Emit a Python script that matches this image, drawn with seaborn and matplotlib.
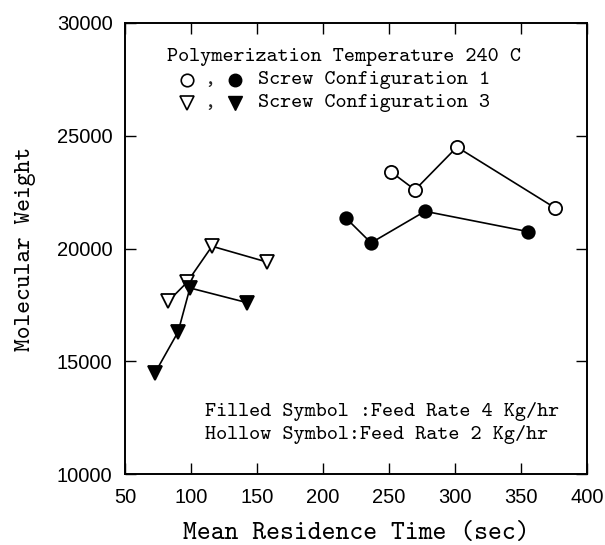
import matplotlib
matplotlib.use("Agg")
import matplotlib.pyplot as plt
import seaborn as sns
import pandas as pd

# Screw configuration 1, feed rate 2 kg/hr (hollow circles)
c1_hollow_x = [251.5, 269.7, 301.5, 375.8]
c1_hollow_y = [23400, 22600, 24500, 21800]
# Screw configuration 1, feed rate 4 kg/hr (filled circles)
c1_filled_x = [217.4, 236.4, 277.3, 355.3]
c1_filled_y = [21350, 20250, 21650, 20750]
# Screw configuration 3, feed rate 2 kg/hr (hollow triangles)
c3_hollow_x = [82.6, 97.0, 115.9, 157.6]
c3_hollow_y = [17650, 18500, 20100, 19400]
# Screw configuration 3, feed rate 4 kg/hr (filled triangles)
c3_filled_x = [72.7, 90.2, 99.2, 142.4]
c3_filled_y = [14480, 16300, 18250, 17600]

x_ticks = [50, 100, 150, 200, 250, 300, 350, 400]
y_ticks = [10000, 15000, 20000, 25000, 30000]

sns.set_theme(style="ticks")
plt.rcParams["font.family"] = ["cmtt10", "DejaVu Sans"]

fig = plt.figure(figsize=(6.05, 5.45), dpi=100)
ax = fig.add_axes([125 / 605, 71 / 545, 462 / 605, 451 / 545])

series = [
    (c1_hollow_x, c1_hollow_y, "o", "white", 9.5),
    (c1_filled_x, c1_filled_y, "o", "black", 9.0),
    (c3_hollow_x, c3_hollow_y, "v", "white", 10.5),
    (c3_filled_x, c3_filled_y, "v", "black", 10.5),
]
for xs, ys, mk, fc, ms in series:
    df = pd.DataFrame({"x": xs, "y": ys})
    sns.lineplot(data=df, x="x", y="y", ax=ax, color="black", linewidth=1.2,
                 marker=mk, markersize=ms, markerfacecolor=fc,
                 markeredgecolor="black", markeredgewidth=1.3, sort=False)

ax.set_xlim(50, 400)
ax.set_ylim(10000, 30000)
ax.set_xticks(x_ticks)
ax.set_yticks(y_ticks)
ax.set_xticklabels([str(v) for v in x_ticks], family="Liberation Sans", fontsize=14.5)
ax.set_yticklabels([str(v) for v in y_ticks], family="Liberation Sans", fontsize=14.5)
ax.tick_params(axis="both", which="major", direction="in", length=8, width=1.0,
               top=True, right=True, colors="black")
ax.tick_params(axis="x", pad=10)
ax.tick_params(axis="y", pad=9)
for s in ax.spines.values():
    s.set_linewidth(1.4)
    s.set_color("black")

ax.set_xlabel("Mean Residence Time (sec)", fontsize=19, labelpad=11, color="black")
ax.set_ylabel("Molecular Weight", fontsize=17.5, labelpad=15, color="black")

tfs = 15.2
ax.text(0.091, 0.925, "Polymerization Temperature 240 C", transform=ax.transAxes,
        fontsize=tfs, va="center", ha="left", color="black")
ax.text(0.288, 0.874, "Screw Configuration 1", transform=ax.transAxes,
        fontsize=tfs, va="center", ha="left", color="black")
ax.text(0.288, 0.823, "Screw Configuration 3", transform=ax.transAxes,
        fontsize=tfs, va="center", ha="left", color="black")
ax.text(0.184, 0.874, ",", transform=ax.transAxes, fontsize=tfs, va="center", ha="center")
ax.text(0.184, 0.823, ",", transform=ax.transAxes, fontsize=tfs, va="center", ha="center")
ax.plot([0.134], [0.874], "o", transform=ax.transAxes, ms=9, mfc="white", mec="black", mew=1.2)
ax.plot([0.238], [0.874], "o", transform=ax.transAxes, ms=9, mfc="black", mec="black")
ax.plot([0.134], [0.823], "v", transform=ax.transAxes, ms=10, mfc="white", mec="black", mew=1.2)
ax.plot([0.238], [0.823], "v", transform=ax.transAxes, ms=10, mfc="black", mec="black")

ax.text(0.173, 0.138, "Filled Symbol :Feed Rate 4 Kg/hr", transform=ax.transAxes,
        fontsize=tfs, va="center", ha="left", color="black")
ax.text(0.173, 0.087, "Hollow Symbol:Feed Rate 2 Kg/hr", transform=ax.transAxes,
        fontsize=tfs, va="center", ha="left", color="black")

fig.savefig("out.png", dpi=100)
